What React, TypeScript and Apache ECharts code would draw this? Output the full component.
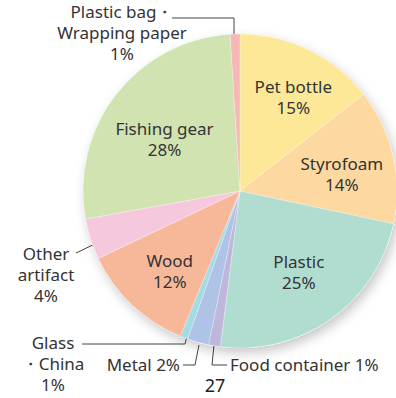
import React, { useEffect, useRef } from "react";
import * as echarts from "echarts";

const names = [
  "Pet bottle",
  "Styrofoam",
  "Plastic",
  "Food container",
  "Metal",
  "Glass\n・China",
  "Wood",
  "Other\nartifact",
  "Fishing gear",
  "Plastic bag・\nWrapping paper",
];
const shares = [14.4, 13.9, 23.6, 1.2, 2.2, 0.8, 11.7, 4.2, 26.8, 1.0];
const percentLabels = ["15%", "14%", "25%", "1%", "2%", "1%", "12%", "4%", "28%", "1%"];
const colors = [
  "#fce897",
  "#fdd8a1",
  "#b1ddd1",
  "#bfb6dc",
  "#aec3e6",
  "#a5dbe4",
  "#f7b89a",
  "#f6c8de",
  "#d0e3b1",
  "#f5b8b6",
];
const insideIdx = [0, 1, 2, 6, 8];
const pageNumber = "27";

const FONT = '"Noto Sans", "Liberation Sans", Arial, sans-serif';
const TEXT = "#333";
const LINE = "#444";

// small nudges of the inside labels (pixels)
const labelNudge: Record<number, [number, number]> = {
  0: [8, -1],
  1: [1, 6],
  2: [-1, -3],
  6: [1, 5],
  8: [6, 12],
};

export default function App() {
  const ref = useRef<HTMLDivElement>(null);
  useEffect(() => {
    document.body.style.margin = "0";
    const chart = echarts.init(ref.current!, null, { renderer: "svg" });
    const center = [240, 191];
    const R = 157;
    const lineStyle = { stroke: LINE, lineWidth: 1, fill: null };
    const txt = (text: string, x: number, y: number, align: string, va: string) => ({
      type: "text",
      x,
      y,
      silent: true,
      style: {
        text,
        align,
        verticalAlign: va,
        font: `17px ${FONT}`,
        lineHeight: 21,
        fill: TEXT,
      },
    });
    chart.setOption({
      animation: false,
      series: [
        {
          type: "pie",
          silent: true,
          center,
          radius: [0, R],
          startAngle: 90,
          z: 1,
          label: { show: false },
          labelLine: { show: false },
          itemStyle: {
            color: "#ffffff",
            shadowBlur: 12,
            shadowColor: "rgba(0,0,0,0.22)",
            shadowOffsetX: 3,
            shadowOffsetY: 5,
          },
          data: [{ value: 1, name: "bg" }],
        },
        {
          type: "pie",
          silent: true,
          center,
          radius: [0, R],
          startAngle: 90,
          clockwise: true,
          z: 2,
          avoidLabelOverlap: false,
          label: { show: false },
          labelLine: { show: false },
          itemStyle: { borderColor: "rgba(255,255,255,0.5)", borderWidth: 0.5 },
          data: shares.map((v, i) => ({
            value: v,
            name: names[i],
            itemStyle: { color: colors[i] },
          })),
        },
        {
          type: "pie",
          silent: true,
          center,
          radius: [44, R],
          startAngle: 90,
          clockwise: true,
          z: 3,
          avoidLabelOverlap: false,
          itemStyle: { color: "rgba(0,0,0,0)", borderWidth: 0 },
          labelLine: { show: false },
          label: {
            position: "inside",
            fontFamily: FONT,
            fontSize: 17,
            lineHeight: 21,
            color: TEXT,
            formatter: (p: any) => `${names[p.dataIndex]}\n${percentLabels[p.dataIndex]}`,
          },
          labelLayout: (p: any) => {
            const n = labelNudge[p.dataIndex];
            return n ? { dx: n[0], dy: n[1] } : {};
          },
          data: shares.map((v, i) => ({
            value: v,
            name: names[i],
            label: { show: insideIdx.includes(i) },
          })),
        },
      ],
      graphic: [
        // Plastic bag
        txt(`${names[9]}\n${percentLabels[9]}`, 122, 1, "center", "top"),
        { type: "polyline", silent: true, shape: { points: [[172, 18], [234, 18], [234, 42]] }, style: lineStyle },
        // Other artifact
        txt(`${names[7]}\n${percentLabels[7]}`, 46, 243, "center", "top"),
        { type: "line", silent: true, shape: { x1: 76, y1: 253, x2: 101, y2: 241 }, style: lineStyle },
        // Glass China
        txt(`${names[5]}\n${percentLabels[5]}`, 53, 332, "center", "top"),
        { type: "polyline", silent: true, shape: { points: [[82, 344], [185, 344], [187, 336]] }, style: lineStyle },
        // Metal
        txt(`${names[4]} ${percentLabels[4]}`, 180, 364, "right", "middle"),
        { type: "polyline", silent: true, shape: { points: [[183, 365], [195, 365], [199, 345]] }, style: lineStyle },
        // Food container
        txt(`${names[3]} ${percentLabels[3]}`, 230, 364, "left", "middle"),
        { type: "polyline", silent: true, shape: { points: [[227, 365], [212, 365], [214, 345]] }, style: lineStyle },
        // page number
        {
          type: "text",
          x: 215,
          y: 385,
          silent: true,
          style: { text: pageNumber, align: "center", verticalAlign: "middle", font: `18px ${FONT}`, fill: "#222" },
        },
      ],
    });
    return () => chart.dispose();
  }, []);
  return <div ref={ref} style={{ width: 396, height: 398 }} />;
}
